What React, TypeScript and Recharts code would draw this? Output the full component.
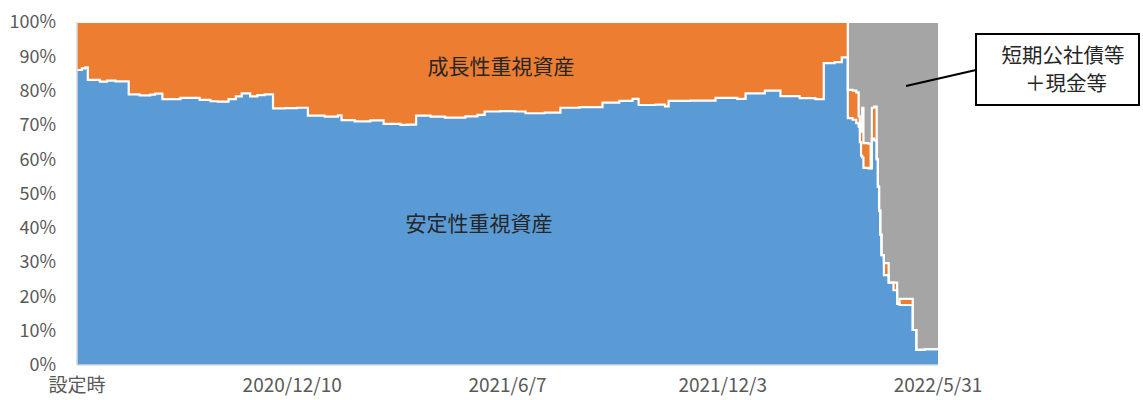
import React from 'react';
import { AreaChart, Area, XAxis, YAxis } from 'recharts';

// days since 設定時 (2020/6/14); each value holds until the next point
const days = [
  0, 4, 7, 9, 19, 25, 32, 43, 52, 61, 65, 71, 86, 102, 111, 117, 126, 132, 137, 144,
  150, 156, 163, 173, 183, 192, 206, 217, 220, 231, 244, 255, 269, 275, 282, 294, 306, 323, 333, 339,
  352, 364, 373, 389, 402, 418, 437, 451, 462, 467, 481, 489, 492, 510, 531, 549, 556, 572, 585, 601,
  614, 621, 630, 636, 641, 645, 648, 650, 651, 652, 653, 654, 658, 660, 661, 663, 665, 666, 667, 668,
  669, 671, 675, 677, 679, 682, 684, 695, 698, 705, 716,
];

// 安定性重視資産 (%)
const stable = [
  86.0, 86.5, 86.8, 83.1, 82.6, 82.9, 82.7, 78.9, 78.6, 78.8, 79.1, 77.5, 77.9, 77.3, 76.9, 76.8, 77.5, 78.3, 79.2, 78.3,
  78.7, 78.9, 74.8, 74.9, 75.0, 72.7, 72.4, 72.8, 71.4, 71.0, 71.3, 70.3, 70.0, 70.1, 72.7, 72.4, 72.1, 72.5, 72.9, 73.9,
  74.0, 73.9, 73.4, 73.6, 75.0, 75.2, 76.5, 77.0, 77.6, 75.8, 75.9, 75.4, 77.0, 77.1, 77.9, 77.6, 79.2, 80.0, 78.4, 77.8,
  77.5, 88.0, 88.3, 89.7, 72.0, 71.5, 70.5, 69.5, 65.0, 61.0, 60.5, 57.5, 57.3, 57.4, 66.0, 65.5, 60.0, 52.0, 45.0, 38.0,
  32.0, 26.2, 24.0, 24.0, 21.8, 17.8, 17.5, 10.2, 4.4, 4.6, 4.4,
];

// 成長性重視資産 (%)
const growth = [
  14.0, 13.5, 13.2, 16.9, 17.4, 17.1, 17.3, 21.1, 21.4, 21.2, 20.9, 22.5, 22.1, 22.7, 23.1, 23.2, 22.5, 21.7, 20.8, 21.7,
  21.3, 21.1, 25.2, 25.1, 25.0, 27.3, 27.6, 27.2, 28.6, 29.0, 28.7, 29.7, 30.0, 29.9, 27.3, 27.6, 27.9, 27.5, 27.1, 26.1,
  26.0, 26.1, 26.6, 26.4, 25.0, 24.8, 23.5, 23.0, 22.4, 24.2, 24.1, 24.6, 23.0, 22.9, 22.1, 22.4, 20.8, 20.0, 21.6, 22.2,
  22.5, 12.0, 11.7, 10.3, 8.2, 8.5, 9.0, 3.0, 5.0, 7.0, 14.5, 7.2, 7.2, 0.0, 9.0, 9.8, 0.0, 0.0, 0.0, 0.0,
  0.0, 3.5, 0.0, 0.0, 2.2, 0.0, 1.8, 0.0, 0.0, 0.0, 0.0,
];

// 短期公社債等＋現金等 (%)
const cash = [
  0, 0, 0, 0, 0, 0, 0, 0, 0, 0, 0, 0, 0, 0, 0, 0, 0, 0, 0, 0,
  0, 0, 0, 0, 0, 0, 0, 0, 0, 0, 0, 0, 0, 0, 0, 0, 0, 0, 0, 0,
  0, 0, 0, 0, 0, 0, 0, 0, 0, 0, 0, 0, 0, 0, 0, 0, 0, 0, 0, 0,
  0, 0, 0, 0, 19.8, 20.0, 20.5, 27.5, 30.0, 32.0, 25.0, 35.3, 35.5, 42.6, 25.0, 24.7, 40.0, 48.0, 55.0, 62.0,
  68.0, 70.3, 76.0, 76.0, 76.0, 82.2, 80.7, 89.8, 95.6, 95.4, 95.6,
];

const tickDays = [0, 179, 358, 537, 716];
const tickLabels = ['設定時', '2020/12/10', '2021/6/7', '2021/12/3', '2022/5/31'];
const yTicks = [0, 10, 20, 30, 40, 50, 60, 70, 80, 90, 100];

const data = days.map((d, i) => ({ d, stable: stable[i], growth: growth[i], cash: cash[i] }));

const FONT = '"Noto Sans CJK JP", "Noto Sans", sans-serif';
const axisText = { fill: '#595959', fontSize: 18, fontFamily: FONT };

const series = [
  { key: 'stable', color: '#5B9BD5' },
  { key: 'growth', color: '#ED7D31' },
  { key: 'cash', color: '#A5A5A5' },
];

export default function App() {
  return (
    <div style={{ position: 'absolute', left: 0, top: 0, width: 1143, height: 400, background: '#fff' }}>
      <AreaChart
        width={1143}
        height={400}
        data={data}
        margin={{ top: 22, right: 205, left: 17, bottom: 5 }}
      >
        <XAxis
          dataKey="d"
          type="number"
          domain={[0, 716]}
          ticks={tickDays}
          tickFormatter={(v: number) => tickLabels[tickDays.indexOf(v)] ?? ''}
          tick={{ ...axisText, fontSize: 19 }}
          tickLine={false}
          tickSize={0}
          tickMargin={14}
          height={30}
          axisLine={{ stroke: '#D9D9D9', strokeWidth: 1.5 }}
          interval={0}
        />
        <YAxis
          domain={[0, 100]}
          ticks={yTicks}
          tickFormatter={(v: number) => `${v}%`}
          tick={axisText}
          tickLine={false}
          tickSize={0}
          tickMargin={21}
          width={60}
          axisLine={{ stroke: '#D9D9D9', strokeWidth: 1.5 }}
          interval={0}
        />
        {/* fills first, then the white borders on a second identical stack so no fill covers them */}
        {series.map((s) => (
          <Area key={`f-${s.key}`} type="stepAfter" dataKey={s.key} stackId="fill" fill={s.color}
            fillOpacity={1} stroke="none" dot={false} activeDot={false} isAnimationActive={false} />
        ))}
        {series.map((s) => (
          <Area key={`s-${s.key}`} type="stepAfter" dataKey={s.key} stackId="edge" fill="none"
            fillOpacity={0} stroke="#ffffff" strokeWidth={2.2} dot={false} activeDot={false}
            isAnimationActive={false} />
        ))}
      </AreaChart>
      <svg width={1143} height={400} style={{ position: 'absolute', left: 0, top: 0, pointerEvents: 'none' }}>
        <g fontFamily={FONT} fill="#262626" fontSize={21} textAnchor="middle">
          <text x={501} y={74}>成長性重視資産</text>
          <text x={479} y={231}>安定性重視資産</text>
        </g>
        <line x1={906} y1={86} x2={976} y2={70} stroke="#000" strokeWidth={2} />
        <rect x={976} y={34} width={163} height={71} fill="#fff" stroke="#000" strokeWidth={2} />
        <g fontFamily={FONT} fill="#262626" fontSize={20.5} textAnchor="middle">
          <text x={1063} y={63}>短期公社債等</text>
          <text x={1066} y={91}>＋現金等</text>
        </g>
      </svg>
    </div>
  );
}
